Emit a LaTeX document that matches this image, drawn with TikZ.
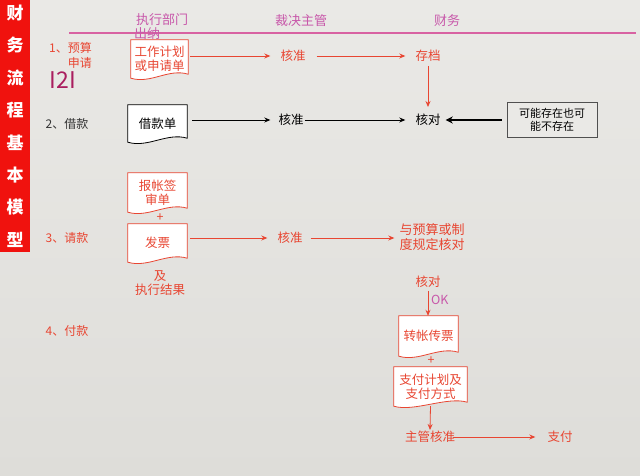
\documentclass[tikz,border=0pt]{standalone}
\usepackage{fontspec}
\setmainfont{Noto Sans CJK SC}
\usetikzlibrary{arrows.meta}

\definecolor{pagetop}{RGB}{234,233,230}
\definecolor{pagebot}{RGB}{222,221,217}
\definecolor{barred}{RGB}{240,18,14}
\definecolor{flowred}{RGB}{232,70,50}
\definecolor{headpink}{RGB}{200,88,170}
\definecolor{linepink}{RGB}{216,98,162}
\definecolor{numpurple}{RGB}{170,30,95}
\definecolor{boxgray}{RGB}{80,80,80}

\pgfdeclarelayer{bg}
\pgfsetlayers{bg,main}

% document shape with a wavy bottom, drawn behind node #1
\newcommand{\docwave}[2]{%
  \begin{pgfonlayer}{bg}
    \draw[#2,fill=white,line width=0.8pt] (#1.north west) -- (#1.north east)
      -- ([yshift=4pt]#1.south east)
      .. controls ([xshift=-20pt,yshift=10pt]#1.south east) and ([xshift=20pt,yshift=-6pt]#1.south west) .. (#1.south west)
      -- cycle;
  \end{pgfonlayer}}

\begin{document}
\begin{tikzpicture}[x=1pt,y=-1pt,
  font=\fontsize{12.5}{14}\selectfont,
  sidechar/.style={text=white,font=\fontsize{17}{17}\selectfont\bfseries,inner sep=0pt},
  head/.style={text=headpink,font=\fontsize{13}{14}\selectfont,inner sep=1pt},
  rowlabel/.style={font=\fontsize{12}{15}\selectfont,inner sep=1pt,align=right},
  stepred/.style={text=flowred,inner sep=1pt,align=center},
  stepblack/.style={text=black,inner sep=1pt,align=center},
  doc/.style={inner sep=0pt,align=center,minimum width=59pt,minimum height=38pt},
  redarrow/.style={draw=flowred,line width=0.8pt,-{Stealth[length=6pt,width=5pt]}},
  blackarrow/.style={draw=black,line width=0.8pt,-{Stealth[length=6pt,width=5pt]}},
  thickarrow/.style={draw=black,line width=2.4pt,-{Stealth[length=7pt,width=7pt]}}]

\path[use as bounding box] (0,0) rectangle (640,476);
\begin{pgfonlayer}{bg}
  \shade[top color=pagetop,bottom color=pagebot] (0,0) rectangle (640,476);
\end{pgfonlayer}

% side bar
\fill[barred] (0,0) rectangle (30,252);
\foreach \ch [count=\i] in {财,务,流,程,基,本,模,型}
  \node[sidechar] (side\i) at (15,{13+32.4*(\i-1)}) {\ch};

% column heads
\draw[linepink,line width=1.1pt] (69,33) -- (636,33);
\node[head] (hexec) at (162,20) {执行部门};
\node[head] (hcash) at (147,34) {出纳};
\node[head] (hboss) at (301,21) {裁决主管};
\node[head] (hfin) at (447,21) {财务};

% 1 budget
\node[rowlabel,text=flowred,anchor=east] (row1) at (93,55) {1、预算\\申请};
\node[text=numpurple,font=\fontsize{23}{23}\selectfont,inner sep=0pt] (num) at (63,80) {I2I};
\node[doc,text=flowred,minimum width=57pt] (wplan) at (159.5,59) {工作计划\\或申请单};
\docwave{wplan}{flowred}
\node[stepred] (ok1) at (293,56) {核准};
\node[stepred] (archive) at (428,56) {存档};
\draw[redarrow,shorten >=9pt,shorten <=2pt] (wplan.east |- ok1) -- (ok1.west);
\draw[redarrow,shorten >=9pt,shorten <=10pt] (ok1.east) -- (archive.west);

% 2 loan
\node[rowlabel,text=black!80] (row2) at (67,124) {2、借款};
\node[doc,minimum height=37pt] (loan) at (157.5,123.5) {借款单};
\docwave{loan}{black}
\node[stepblack] (ok2) at (291,120) {核准};
\node[stepblack] (check1) at (428,120) {核对};
\node[draw=boxgray,fill=pagetop,line width=0.8pt,font=\fontsize{11}{13}\selectfont,
  minimum width=90pt,minimum height=35pt,align=center,inner sep=1pt] (maybe) at (552,119.5) {可能存在也可\\能不存在};
\draw[redarrow,shorten >=6pt,shorten <=3pt] (archive.south) -- (check1.north);
\draw[blackarrow,shorten >=7pt,shorten <=5pt] (loan.east |- ok2) -- (ok2.west);
\draw[blackarrow,shorten >=9pt] (ok2.east) -- (check1.west);
\draw[thickarrow,shorten >=4pt,shorten <=5pt] (maybe.west |- check1) -- (check1.east);

% 3 claim
\node[rowlabel,text=flowred] (row3) at (67,238) {3、请款};
\node[doc,text=flowred,minimum height=39pt] (claim) at (157.5,192.5) {报帐签\\审单};
\docwave{claim}{flowred}
\node[text=flowred,inner sep=0pt] (plus1) at (160,217.5) {+};
\node[doc,text=flowred] (invoice) at (157.5,243) {发票};
\docwave{invoice}{flowred}
\node[stepred] (and1) at (160,283) {及\\执行结果};
\node[stepred] (ok3) at (290,238) {核准};
\node[stepred,font=\fontsize{13}{15}\selectfont] (budget) at (432,237) {与预算或制\\度规定核对};
\draw[redarrow,shorten >=9pt,shorten <=3pt] (invoice.east |- ok3) -- (ok3.west);
\draw[redarrow,shorten >=4pt,shorten <=7pt] (ok3.east) -- (budget.west |- ok3);

% 4 payment
\node[rowlabel,text=flowred] (row4) at (67,331) {4、付款};
\node[stepred] (check2) at (428,282) {核对};
\node[doc,text=flowred,minimum height=40pt] (voucher) at (428.5,336) {转帐传票};
\docwave{voucher}{flowred}
\node[text=flowred,inner sep=0pt] (plus2) at (431,361) {+};
\node[doc,text=flowred,minimum width=73pt,minimum height=39pt] (payplan) at (430.5,386.5) {支付计划及\\支付方式};
\docwave{payplan}{flowred}
\node[stepred] (approve) at (430,437) {主管核准};
\node[stepred] (pay) at (560,437) {支付};
\draw[redarrow,shorten <=2pt] (check2.south) -- (check2.south |- voucher.north);
\node[text=headpink,inner sep=0pt,anchor=west] (okmark) at (431,300) {OK};
\draw[redarrow] (payplan.south) -- (approve.north);
\draw[redarrow,shorten >=11pt,shorten <=-3pt] (approve.east) -- (pay.west);
\end{tikzpicture}
\end{document}
